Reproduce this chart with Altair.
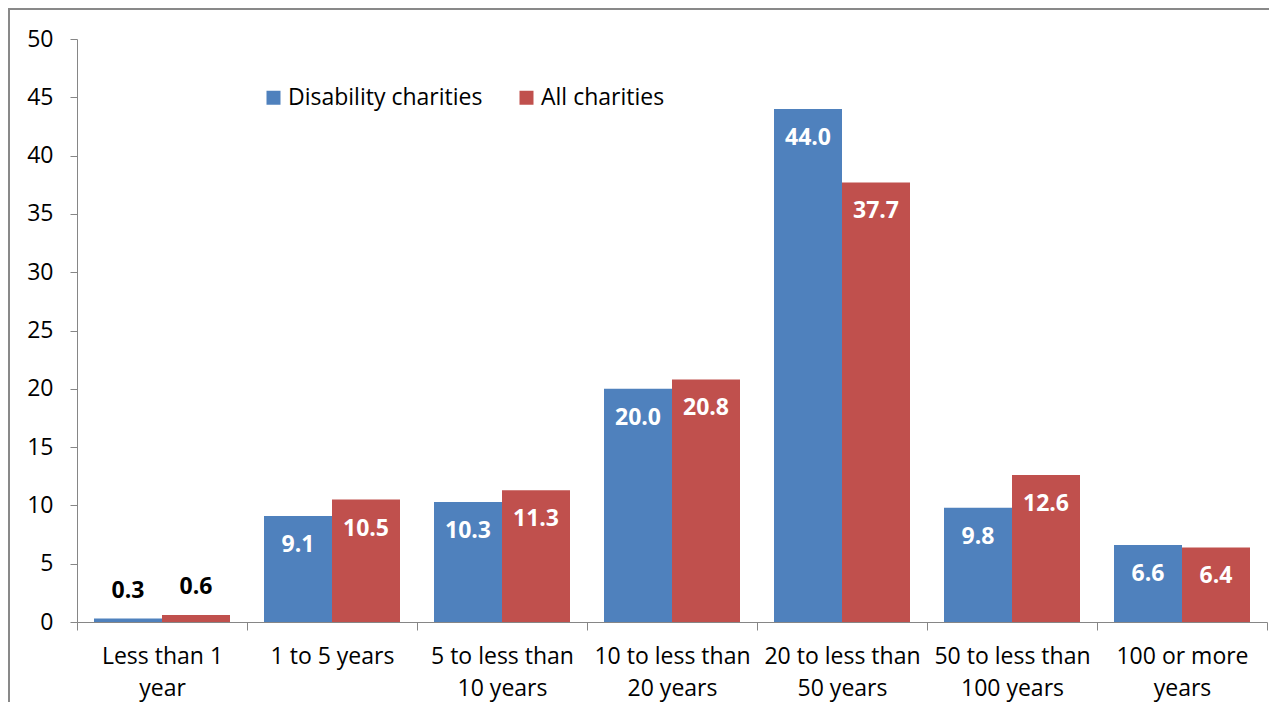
import json
import altair as alt
import pandas as pd

categories = ["Less than 1 year", "1 to 5 years", "5 to less than 10 years",
              "10 to less than 20 years", "20 to less than 50 years",
              "50 to less than 100 years", "100 or more years"]
label_lines = [["Less than 1", "year"], ["1 to 5 years"], ["5 to less than", "10 years"],
               ["10 to less than", "20 years"], ["20 to less than", "50 years"],
               ["50 to less than", "100 years"], ["100 or more", "years"]]
series = ["Disability charities", "All charities"]
disability = [0.3, 9.1, 10.3, 20.0, 44.0, 9.8, 6.6]
all_charities = [0.6, 10.5, 11.3, 20.8, 37.7, 12.6, 6.4]
colors = ["#4F81BD", "#C0504D"]

rows = []
for c, d, a in zip(categories, disability, all_charities):
    rows.append({"category": c, "series": series[0], "value": d})
    rows.append({"category": c, "series": series[1], "value": a})
df = pd.DataFrame(rows)

FONT = "Open Sans"
FS = 23
W, H = 1190, 583
mapping = {c: l for c, l in zip(categories, label_lines)}
label_expr = json.dumps(mapping) + "[datum.value]"

x = alt.X("category:N", sort=categories, title=None,
          scale=alt.Scale(paddingInner=0, paddingOuter=0),
          axis=alt.Axis(labelAngle=0, labelExpr=label_expr, tickBand="extent",
                        tickSize=8, labelPadding=15, labelLineHeight=32,
                        labelFontSize=FS, labelFont=FONT, labelColor="#000000",
                        domainColor="#868686", tickColor="#868686"))
xo = alt.XOffset("series:N", sort=series,
                 scale=alt.Scale(paddingOuter=0.25, paddingInner=0))
y = alt.Y("value:Q", title=None,
          scale=alt.Scale(domain=[0, 50]),
          axis=alt.Axis(values=list(range(0, 51, 5)), grid=False, tickSize=7,
                        labelPadding=17, labelFontSize=FS, labelFont=FONT,
                        labelColor="#000000", domainColor="#868686",
                        tickColor="#868686"))
color = alt.Color("series:N", sort=series,
                  scale=alt.Scale(domain=series, range=colors),
                  legend=alt.Legend(title=None, orient="none", legendX=185, legendY=47,
                                    direction="horizontal", symbolType="square",
                                    symbolSize=196, symbolStrokeWidth=0,
                                    labelFontSize=FS, labelFont=FONT, labelColor="#000000",
                                    labelLimit=0, columnPadding=32, labelOffset=3))

base = alt.Chart(df)
bars = base.mark_bar().encode(x=x, xOffset=xo, y=y, color=color)
inside = base.transform_filter("datum.value >= 2").mark_text(
    font=FONT, fontSize=FS, fontWeight="bold", color="white", baseline="middle", dy=29
).encode(x=x, xOffset=xo, y=y, text=alt.Text("value:Q", format=".1f"))
above = base.transform_filter("datum.value < 2").mark_text(
    font=FONT, fontSize=FS, fontWeight="bold", color="black", baseline="middle", dy=-28
).encode(x=x, xOffset=xo, y=y, text=alt.Text("value:Q", format=".1f"))

border_left = alt.Chart(df).mark_rule(color="#898989", strokeWidth=1.5).encode(
    x=alt.value(-68.5), y=alt.value(-30.5), y2=alt.value(H + 120))
border_top = alt.Chart(df).mark_rule(color="#898989", strokeWidth=1.5).encode(
    x=alt.value(-68.5), x2=alt.value(W + 40), y=alt.value(-30.5))

chart = alt.layer(bars, inside, above, border_left, border_top).properties(
    width=W, height=H,
    autosize=alt.AutoSizeParams(type="none"),
    padding={"left": 69, "top": 31, "right": 2, "bottom": 80},
).configure(font=FONT, view=alt.ViewConfig(stroke=None))

chart.save("out.html", embed_options={"renderer": "svg", "actions": False})
